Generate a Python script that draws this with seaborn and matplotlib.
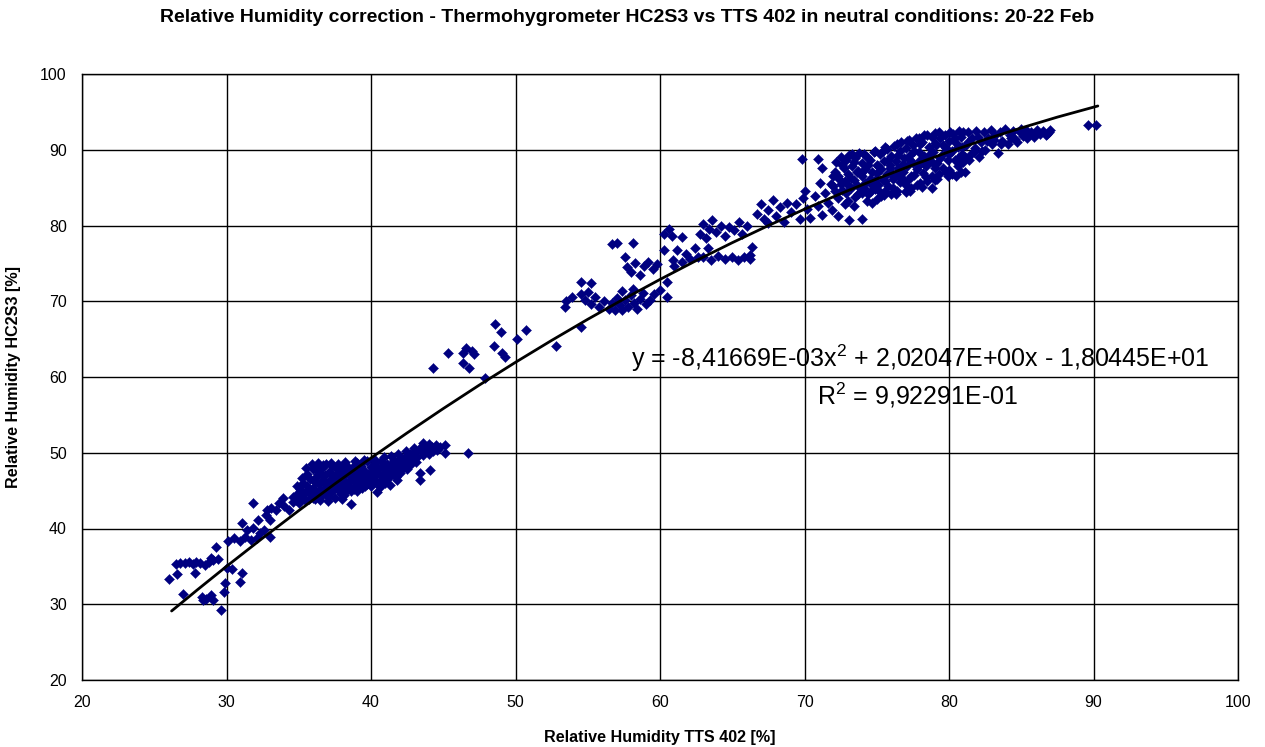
"""
Relative humidity correction scatter: HC2S3 vs TTS 402 with quadratic trendline.
"""

import numpy as np
import pandas as pd
import matplotlib
matplotlib.use("Agg")
import matplotlib.pyplot as plt
import seaborn as sns

# ── Data (x = TTS 402 [%], y = HC2S3 [%]) ──

# sparse points below ~34 %
low_tail = [
    (26.0, 33.3), (26.6, 34.0), (26.5, 35.3), (26.8, 35.5), (27.1, 35.4), (27.4, 35.6),
    (27.7, 35.3), (27.9, 35.6), (28.2, 35.5), (28.5, 35.2), (28.8, 35.6), (29.1, 35.8),
    (29.4, 36.0), (27.0, 31.4), (27.8, 34.1), (28.3, 31.0), (28.6, 30.7), (28.9, 31.2),
    (29.1, 30.6), (28.4, 30.5), (29.6, 29.2), (29.3, 37.6), (28.9, 36.1), (29.8, 31.6),
    (29.9, 32.8), (30.0, 34.8), (30.4, 34.6), (30.9, 33.0), (31.1, 34.1), (30.1, 38.4),
    (30.5, 38.7), (30.9, 38.3), (31.3, 38.9), (31.7, 38.5), (32.1, 38.8), (31.1, 40.7),
    (31.4, 39.8), (31.8, 40.1), (31.8, 43.4), (32.2, 41.1), (32.3, 39.4), (32.7, 41.8),
    (32.8, 42.4), (33.1, 42.7), (33.4, 42.5), (33.0, 41.1), (33.0, 38.9), (32.6, 39.8),
    (33.9, 44.0), (34.3, 42.4), (34.6, 43.5), (34.0, 43.0), (33.6, 43.4),
]

# dense cluster 34-47 %
low_cluster = [
    (34.8, 43.8), (34.9, 44.6), (35.0, 43.4), (35.1, 45.2), (35.2, 44.1), (35.3, 46.0),
    (35.4, 43.7), (35.5, 44.8), (35.6, 45.6), (35.6, 47.2), (35.7, 43.9), (35.8, 46.5),
    (35.9, 44.6), (36.0, 47.8), (36.0, 45.3), (36.1, 43.9), (36.2, 46.8), (36.2, 48.3),
    (36.3, 44.8), (36.4, 45.9), (36.4, 47.5), (36.5, 43.8), (36.6, 46.3), (36.6, 48.0),
    (36.7, 44.5), (36.8, 45.4), (36.8, 47.1), (36.9, 46.0), (36.9, 48.5), (37.0, 44.2),
    (37.0, 45.8), (37.1, 47.4), (37.2, 46.6), (37.2, 44.8), (37.3, 48.2), (37.4, 45.5),
    (37.4, 47.0), (37.5, 44.0), (37.6, 46.2), (37.6, 48.0), (37.7, 45.1), (37.8, 47.5),
    (37.8, 46.7), (37.9, 44.6), (38.0, 45.8), (38.0, 48.1), (38.1, 47.0), (38.2, 46.3),
    (38.3, 44.9), (38.3, 48.4), (38.4, 47.6), (38.5, 45.6), (38.6, 43.2), (38.6, 46.8),
    (38.7, 48.0), (38.8, 45.2), (38.9, 47.3), (38.9, 46.1), (39.0, 48.6), (39.1, 45.8),
    (39.2, 47.0), (39.3, 46.4), (39.3, 48.2), (39.4, 45.3), (39.5, 47.6), (39.6, 46.7),
    (39.7, 48.9), (39.7, 45.9), (39.8, 47.2), (39.9, 46.3), (40.0, 48.1), (40.0, 45.6),
    (40.1, 47.5), (40.2, 46.9), (40.3, 48.6), (40.4, 44.8), (40.4, 46.2), (40.5, 47.8),
    (40.6, 47.1), (40.7, 48.9), (40.8, 46.6), (40.9, 47.9), (41.0, 47.3), (41.0, 46.0),
    (41.1, 48.5), (41.2, 47.6), (41.3, 46.9), (41.4, 48.2), (41.5, 47.4), (41.6, 49.0),
    (41.7, 48.1), (41.8, 46.4), (41.8, 47.6), (41.9, 48.8), (42.0, 48.2), (42.1, 49.3),
    (42.3, 48.6), (42.4, 49.6), (42.6, 48.9), (42.7, 49.8), (42.9, 49.2), (43.0, 50.1),
    (43.2, 49.5), (43.4, 47.3), (43.4, 46.4), (43.4, 50.3), (43.6, 51.3), (43.6, 49.7),
    (43.8, 50.5), (44.0, 49.9), (44.1, 47.7), (44.2, 50.8), (44.3, 50.2), (44.5, 51.0),
    (44.6, 50.4), (44.8, 50.7), (45.1, 51.0), (45.1, 50.0), (46.7, 50.0),
    (35.3, 44.5), (35.8, 45.0), (36.1, 46.2), (36.3, 47.2), (36.5, 45.1), (36.7, 46.9),
    (36.9, 44.9), (37.1, 46.1), (37.3, 45.0), (37.5, 46.9), (37.7, 47.9), (37.9, 45.4),
    (38.1, 44.4), (38.2, 47.8), (38.4, 46.0), (38.6, 45.0), (38.8, 47.7), (39.0, 45.0),
    (39.1, 46.9), (39.4, 47.9), (39.6, 45.6), (39.8, 46.0), (40.1, 45.9), (40.3, 47.4),
    (40.6, 45.5), (40.8, 48.4), (41.1, 46.6), (41.3, 45.8), (41.5, 48.8), (41.7, 46.8),
    (42.0, 47.3), (42.2, 48.0), (42.5, 47.8), (42.8, 48.5), (43.1, 48.8), (36.0, 44.0),
    (37.0, 43.6), (38.0, 43.9), (35.0, 44.2), (34.6, 44.2),
    (35.5, 48.0), (35.9, 48.5), (36.3, 48.6), (36.7, 48.4), (37.2, 48.6), (37.7, 48.5),
    (38.2, 48.8), (38.9, 48.9), (39.5, 49.0), (40.2, 49.2), (40.9, 49.4), (41.4, 49.6),
    (41.9, 49.8), (42.4, 50.2), (43.0, 50.6), (43.5, 50.9), (44.0, 51.1), (34.9, 45.6),
    (35.2, 46.7),
]

# scattered points 44-55 %
mid_scatter = [
    (44.3, 61.2), (45.3, 63.2), (46.4, 63.2), (46.6, 63.8), (47.0, 63.4), (47.1, 63.0),
    (46.4, 61.8), (46.8, 61.2), (47.9, 59.9), (48.5, 64.1), (48.6, 67.0), (49.0, 66.0),
    (49.1, 63.2), (49.3, 62.6), (50.1, 65.0), (50.7, 66.2), (52.8, 64.1), (54.5, 66.6),
]

# 53-67 %
mid_band = [
    (53.5, 70.0), (53.4, 69.3), (53.9, 70.6), (54.5, 72.5), (55.2, 72.4), (54.5, 70.9),
    (54.8, 70.2), (55.0, 71.2), (55.2, 69.6), (55.5, 70.5), (55.8, 69.3), (56.1, 70.0),
    (56.5, 69.0), (56.7, 69.8), (56.9, 68.8), (57.0, 70.4), (57.2, 69.5), (57.4, 68.9),
    (57.6, 70.1), (57.8, 69.3), (58.0, 70.8), (58.2, 69.8), (58.4, 69.0), (58.6, 70.3),
    (58.8, 71.1), (59.0, 69.6), (59.3, 70.2), (59.6, 71.0), (60.0, 71.5), (60.5, 70.6),
    (58.1, 71.6), (57.4, 71.3), (56.7, 77.6), (57.0, 77.7), (58.1, 77.7), (57.6, 75.8),
    (57.7, 74.5), (58.0, 73.8), (58.3, 75.0), (58.6, 73.5), (58.9, 74.7), (59.2, 75.2),
    (59.5, 74.2), (59.8, 74.9), (60.3, 76.8), (60.3, 78.9), (60.6, 79.5), (60.8, 78.6),
    (61.5, 78.5), (60.5, 72.5), (60.9, 75.5), (61.2, 76.8), (61.5, 75.2), (61.8, 76.3),
    (62.1, 75.6), (62.4, 77.0), (62.6, 75.8), (61.0, 74.6), (62.8, 78.9), (63.0, 80.2),
    (63.2, 78.4), (63.4, 79.6), (63.6, 80.7), (63.9, 79.1), (64.2, 80.0), (64.5, 78.6),
    (64.8, 79.8), (63.3, 77.0), (63.0, 75.8), (63.5, 75.5), (64.0, 76.0), (64.5, 75.6),
    (65.0, 75.9), (65.4, 75.4), (65.8, 75.8), (66.2, 75.6), (66.4, 77.2), (66.2, 76.1),
    (65.1, 79.4), (65.5, 80.5), (65.7, 78.9), (66.0, 79.9),
]

# 66-72 %
upper_left = [
    (66.7, 81.5), (67.0, 82.8), (67.2, 80.9), (67.5, 82.0), (67.8, 83.4), (68.0, 81.2),
    (68.3, 82.5), (68.6, 80.5), (68.8, 83.0), (69.1, 81.8), (69.4, 82.9), (69.7, 80.8),
    (69.9, 83.6), (70.2, 82.2), (70.4, 81.0), (70.7, 83.9), (70.9, 82.6), (71.2, 81.4),
    (71.4, 84.3), (71.6, 83.0), (71.9, 82.0), (72.1, 84.6), (72.3, 81.2), (69.8, 88.8),
    (70.9, 88.8), (71.2, 87.6), (71.1, 85.6), (73.1, 80.7), (74.0, 80.9), (74.7, 83.0),
    (67.5, 80.3), (70.0, 84.5),
]

# dense cluster 72-81 %
upper_cluster = [
    (72.0, 85.2), (72.1, 87.0), (72.2, 88.4), (72.3, 83.6), (72.4, 86.1), (72.5, 89.0),
    (72.6, 84.7), (72.7, 87.6), (72.8, 85.9), (72.9, 88.7), (73.0, 83.2), (73.0, 86.8),
    (73.1, 89.3), (73.2, 84.9), (73.3, 87.9), (73.4, 86.0), (73.5, 88.9), (73.5, 83.8),
    (73.6, 85.3), (73.7, 87.2), (73.8, 89.6), (73.9, 84.5), (74.0, 86.5), (74.0, 88.2),
    (74.1, 85.0), (74.2, 87.5), (74.3, 89.1), (74.4, 84.1), (74.5, 86.2), (74.5, 88.6),
    (74.6, 85.6), (74.7, 87.0), (74.8, 89.7), (74.9, 84.8), (75.0, 86.9), (75.0, 88.0),
    (75.1, 85.4), (75.2, 89.4), (75.3, 83.9), (75.3, 87.4), (75.4, 86.0), (75.5, 88.5),
    (75.6, 84.6), (75.7, 90.1), (75.7, 86.8), (75.8, 85.2), (75.9, 88.0), (76.0, 87.1),
    (76.0, 89.2), (75.5, 84.0), (76.1, 85.0), (76.2, 90.5), (76.2, 86.4), (76.3, 88.5),
    (76.4, 84.5), (76.5, 87.6), (76.6, 89.8), (76.6, 85.8), (76.7, 91.0), (76.8, 87.0),
    (76.9, 88.9), (77.0, 85.3), (77.0, 90.2), (76.4, 86.9), (77.1, 87.8), (77.2, 86.2),
    (77.2, 91.3), (77.3, 89.3), (77.4, 85.0), (77.5, 88.2), (77.5, 90.6), (77.6, 86.7),
    (77.7, 91.6), (77.8, 87.4), (77.9, 89.7), (78.0, 85.6), (78.0, 88.6), (77.3, 84.6),
    (78.1, 91.0), (78.2, 86.9), (78.3, 89.2), (78.3, 92.0), (78.4, 87.9), (78.5, 85.9),
    (78.6, 90.4), (78.7, 88.5), (78.8, 91.7), (78.8, 86.5), (78.9, 89.7), (79.0, 87.6),
    (79.0, 92.2), (79.1, 90.6), (79.2, 88.3), (79.3, 86.8), (79.4, 91.5), (79.5, 89.3),
    (79.6, 87.6), (79.7, 92.0), (79.8, 90.2), (79.9, 88.7), (80.0, 91.1), (80.0, 87.3),
    (80.2, 89.8), (80.3, 92.1), (80.4, 88.6), (80.5, 90.9), (80.6, 87.8), (80.8, 87.1),
    (80.8, 91.7), (80.9, 89.5), (81.0, 92.3), (81.0, 88.4), (81.1, 87.0), (80.5, 86.6),
    (72.3, 86.6), (72.6, 88.0), (72.9, 84.3), (73.2, 86.3), (73.4, 88.4), (73.7, 84.2),
    (73.9, 86.9), (74.2, 85.6), (74.4, 88.0), (74.6, 84.6), (74.9, 86.0), (75.1, 87.8),
    (75.2, 84.4), (75.4, 89.8), (75.6, 85.9), (75.8, 88.7), (76.1, 86.2), (76.3, 84.1),
    (76.5, 89.3), (76.7, 86.3), (76.8, 88.1), (77.0, 84.4), (77.2, 88.8), (77.4, 86.5),
    (77.6, 89.8), (77.8, 85.4), (78.0, 90.8), (78.2, 88.3), (78.4, 86.4), (78.6, 89.3),
    (78.8, 84.9), (79.0, 90.9), (79.2, 86.1), (79.4, 88.9), (79.6, 90.6), (79.8, 87.0),
    (80.0, 89.4), (80.2, 86.8), (80.4, 91.5), (80.6, 88.9), (80.9, 90.4), (71.8, 85.5),
    (72.0, 86.5), (73.0, 85.3), (74.0, 84.3),
    (73.3, 89.5), (74.1, 89.4), (74.9, 89.9), (75.6, 90.4), (76.4, 90.8), (77.1, 91.2),
    (77.9, 91.5), (78.5, 91.9), (79.3, 92.3), (80.1, 92.4), (80.7, 92.5), (72.8, 82.8),
    (73.4, 82.6), (74.3, 83.2), (75.0, 83.5), (76.0, 84.2), (77.0, 84.6), (78.1, 85.1),
    (79.0, 86.0), (79.9, 86.5), (72.5, 85.5), (73.6, 87.0), (74.7, 85.3), (75.9, 87.6),
    (76.9, 86.0), (77.9, 88.0), (78.9, 88.2), (79.9, 89.9), (80.6, 90.3), (81.3, 91.0),
]

# upper band 81-90 %
upper_band = [
    (81.2, 90.6), (81.3, 92.4), (81.5, 89.4), (81.6, 91.5), (81.8, 90.2), (81.9, 92.5),
    (82.1, 89.0), (82.2, 91.0), (82.4, 92.3), (82.5, 90.0), (82.7, 91.6), (82.9, 92.6),
    (83.0, 90.7), (83.2, 91.9), (83.4, 89.6), (83.5, 92.4), (83.7, 91.2), (83.9, 92.7),
    (84.1, 90.8), (84.2, 92.0), (84.4, 92.5), (84.6, 91.4), (84.7, 91.0), (84.9, 92.3),
    (85.1, 91.8), (85.3, 92.6), (85.5, 92.0), (85.7, 92.4), (85.9, 91.7), (86.1, 92.6),
    (86.3, 92.1), (86.5, 92.5), (86.7, 91.9), (86.9, 92.4), (87.0, 92.6), (89.6, 93.3),
    (90.2, 93.3), (81.1, 89.0), (81.4, 88.6), (81.7, 89.7), (82.0, 91.7), (82.3, 89.8),
    (82.6, 91.1), (83.1, 91.3), (83.6, 90.7), (84.3, 91.5), (85.0, 92.7), (85.4, 91.6),
    (86.0, 92.2), (86.8, 92.1),
]

# quadratic trendline as drawn in the reference
trend_x = [26.2, 28.0, 30.0, 32.5, 35.0, 37.5, 40.0, 42.5, 45.0, 47.5, 50.0, 52.5, 55.0, 57.5,
           60.0, 62.5, 65.0, 67.5, 70.0, 72.5, 75.0, 77.5, 80.0, 82.5, 85.0, 87.5, 90.3]
trend_y = [29.11, 31.93, 35.00, 38.73, 42.36, 45.89, 49.31, 52.62, 55.83, 58.94, 61.94, 64.83,
           67.62, 70.30, 72.88, 75.36, 77.73, 79.99, 82.15, 84.20, 86.15, 87.99, 89.73, 91.36,
           92.88, 94.31, 95.78]

eq_text = "y = -8,41669E-03x$^2$ + 2,02047E+00x - 1,80445E+01"
r2_text = "R$^2$ = 9,92291E-01"
ticks = [20, 30, 40, 50, 60, 70, 80, 90, 100]

# ── Build frame ─────────────────────────────────────────────
points = low_tail + low_cluster + mid_scatter + mid_band + upper_left + upper_cluster + upper_band
df = pd.DataFrame(points, columns=["tts", "hc2s3"])
trend = pd.DataFrame({"tts": trend_x, "hc2s3": trend_y})

# ── Style ───────────────────────────────────────────────────
sns.set_theme(style="white")
plt.rcParams["font.family"] = ["Liberation Sans", "DejaVu Sans"]
plt.rcParams["mathtext.fontset"] = "custom"
plt.rcParams["mathtext.rm"] = "Liberation Sans"
plt.rcParams["text.color"] = "black"
plt.rcParams["axes.labelcolor"] = "black"

W, H = 1265, 747
fig = plt.figure(figsize=(W / 100, H / 100), dpi=100)
ax = fig.add_axes([82 / W, 1 - 680 / H, (1238 - 82) / W, (680 - 74) / H])

sns.scatterplot(data=df, x="tts", y="hc2s3", marker="D", s=26, color="#000080",
                edgecolor="#000080", linewidth=0.3, ax=ax, zorder=3)
sns.lineplot(data=trend, x="tts", y="hc2s3", color="black", lw=2.0, sort=False,
             ax=ax, zorder=4)

ax.set_xlim(20, 100)
ax.set_ylim(20, 100)
ax.set_xticks(ticks)
ax.set_yticks(ticks)
ax.grid(True, color="black", lw=1.0)
ax.set_axisbelow(True)
for sp in ax.spines.values():
    sp.set_color("black")
    sp.set_linewidth(1.0)
ax.tick_params(axis="both", direction="out", length=5, width=1, color="black",
               labelsize=11.5, labelcolor="black", pad=6)

ax.set_xlabel("Relative Humidity TTS 402 [%]", fontsize=11.6, fontweight="bold", labelpad=14)
ax.set_ylabel("Relative Humidity HC2S3 [%]", fontsize=11.6, fontweight="bold", labelpad=14)
fig.suptitle("Relative Humidity correction - Thermohygrometer HC2S3 vs TTS 402 in neutral conditions: 20-22 Feb",
             x=627 / W, y=1 - 18 / H, va="center", fontsize=14, fontweight="bold")

fig.text(1210 / W, 1 - 358 / H, eq_text, ha="right", va="center", fontsize=18)
fig.text(1018 / W, 1 - 395 / H, r2_text, ha="right", va="center", fontsize=18)

fig.savefig("out.png", dpi=100, facecolor="white")
